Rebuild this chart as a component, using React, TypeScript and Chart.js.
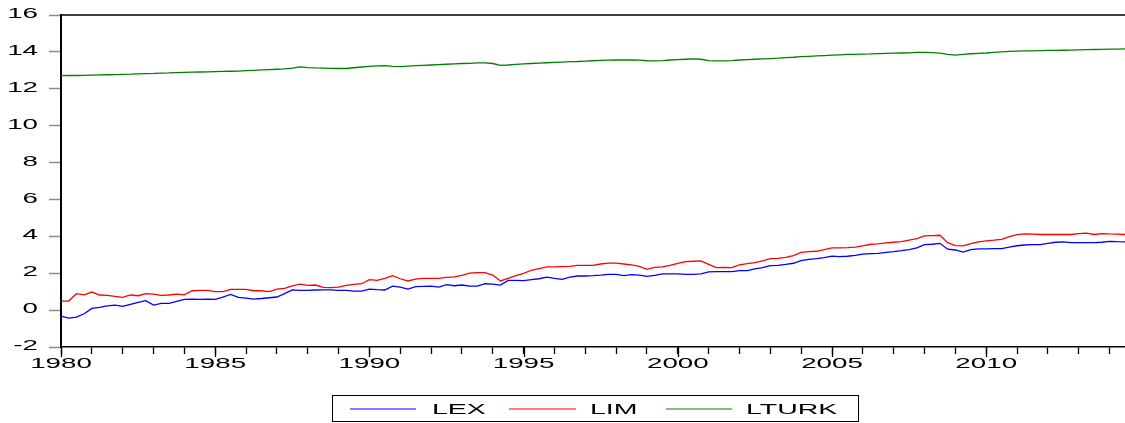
import React, { useEffect, useRef } from 'react';
import { Chart, registerables } from 'chart.js';

Chart.register(...registerables);

// Quarterly observations, 1980Q1 .. 2014Q3
const START_YEAR = 1980;
const PERIODS_PER_YEAR = 4;

const LEX = [
  -0.33, -0.43, -0.38, -0.20, 0.09, 0.15, 0.23, 0.27, 0.20, 0.31,
  0.42, 0.51, 0.27, 0.36, 0.36, 0.47, 0.58, 0.60, 0.58, 0.60,
  0.58, 0.71, 0.85, 0.69, 0.65, 0.60, 0.63, 0.67, 0.71, 0.89,
  1.10, 1.07, 1.07, 1.09, 1.10, 1.10, 1.07, 1.07, 1.03, 1.03,
  1.14, 1.11, 1.09, 1.30, 1.25, 1.14, 1.27, 1.29, 1.30, 1.25,
  1.38, 1.32, 1.36, 1.30, 1.30, 1.43, 1.41, 1.36, 1.61, 1.61,
  1.60, 1.65, 1.70, 1.79, 1.72, 1.67, 1.79, 1.85, 1.85, 1.87,
  1.90, 1.94, 1.94, 1.87, 1.92, 1.90, 1.83, 1.88, 1.96, 1.96,
  1.96, 1.94, 1.94, 1.97, 2.07, 2.09, 2.09, 2.09, 2.14, 2.14,
  2.23, 2.30, 2.41, 2.43, 2.48, 2.54, 2.68, 2.75, 2.79, 2.84,
  2.93, 2.90, 2.92, 2.97, 3.03, 3.06, 3.08, 3.13, 3.17, 3.22,
  3.28, 3.37, 3.55, 3.57, 3.62, 3.30, 3.26, 3.15, 3.28, 3.32,
  3.32, 3.33, 3.33, 3.42, 3.49, 3.53, 3.55, 3.55, 3.62, 3.68,
  3.70, 3.66, 3.66, 3.66, 3.66, 3.68, 3.73, 3.71, 3.70,
];

const LIM = [
  0.49, 0.49, 0.89, 0.83, 0.98, 0.82, 0.80, 0.74, 0.69, 0.82,
  0.78, 0.89, 0.87, 0.80, 0.82, 0.87, 0.83, 1.05, 1.07, 1.07,
  1.00, 1.00, 1.12, 1.12, 1.12, 1.05, 1.05, 1.00, 1.14, 1.18,
  1.32, 1.41, 1.34, 1.36, 1.23, 1.22, 1.25, 1.34, 1.39, 1.43,
  1.65, 1.61, 1.72, 1.87, 1.70, 1.58, 1.68, 1.72, 1.72, 1.72,
  1.78, 1.80, 1.88, 2.01, 2.03, 2.03, 1.90, 1.58, 1.72, 1.87,
  1.99, 2.16, 2.25, 2.34, 2.34, 2.36, 2.37, 2.43, 2.43, 2.43,
  2.50, 2.55, 2.55, 2.50, 2.45, 2.37, 2.21, 2.32, 2.34, 2.43,
  2.54, 2.63, 2.65, 2.67, 2.48, 2.30, 2.32, 2.30, 2.45, 2.52,
  2.57, 2.67, 2.79, 2.81, 2.86, 2.95, 3.13, 3.17, 3.19, 3.28,
  3.37, 3.37, 3.39, 3.42, 3.48, 3.57, 3.59, 3.64, 3.68, 3.71,
  3.80, 3.88, 4.02, 4.04, 4.06, 3.66, 3.50, 3.48, 3.60, 3.70,
  3.75, 3.79, 3.84, 3.98, 4.09, 4.13, 4.12, 4.10, 4.10, 4.10,
  4.10, 4.10, 4.15, 4.17, 4.10, 4.15, 4.13, 4.12, 4.10,
];

const LTURK = [
  12.71, 12.72, 12.72, 12.73, 12.74, 12.75, 12.76, 12.77, 12.78, 12.79,
  12.81, 12.82, 12.83, 12.85, 12.86, 12.88, 12.89, 12.90, 12.91, 12.92,
  12.93, 12.94, 12.95, 12.96, 12.98, 13.00, 13.02, 13.04, 13.06, 13.08,
  13.12, 13.19, 13.15, 13.13, 13.12, 13.11, 13.10, 13.10, 13.14, 13.18,
  13.21, 13.24, 13.26, 13.22, 13.20, 13.23, 13.25, 13.27, 13.29, 13.31,
  13.33, 13.35, 13.37, 13.38, 13.40, 13.40, 13.37, 13.27, 13.29, 13.32,
  13.35, 13.37, 13.39, 13.41, 13.43, 13.45, 13.47, 13.48, 13.50, 13.52,
  13.54, 13.55, 13.56, 13.56, 13.56, 13.55, 13.52, 13.51, 13.53, 13.56,
  13.58, 13.60, 13.62, 13.60, 13.53, 13.51, 13.51, 13.53, 13.56, 13.58,
  13.60, 13.62, 13.64, 13.66, 13.69, 13.71, 13.74, 13.76, 13.78, 13.80,
  13.82, 13.84, 13.86, 13.87, 13.88, 13.89, 13.91, 13.92, 13.93, 13.94,
  13.95, 13.97, 13.97, 13.96, 13.93, 13.87, 13.82, 13.87, 13.90, 13.92,
  13.94, 13.97, 14.00, 14.03, 14.04, 14.05, 14.06, 14.07, 14.08, 14.08,
  14.09, 14.10, 14.11, 14.12, 14.13, 14.14, 14.15, 14.15, 14.16,
];

const SERIES_NAMES = ['LEX', 'LIM', 'LTURK'];
const SERIES_COLORS = ['#0000ff', '#ff0000', '#008000'];
const X_TICK_LABELS = ['1980', '1985', '1990', '1995', '2000', '2005', '2010'];
const Y_TICK_LABELS = ['-2', '0', '2', '4', '6', '8', '10', '12', '14', '16'];

const FONT = '15px "Liberation Sans", Arial, sans-serif';
const STRETCH = 1.85;

function toPoints(values: number[]) {
  return values.map((v, i) => ({ x: START_YEAR + i / PERIODS_PER_YEAR, y: v }));
}

function stretchedText(
  ctx: CanvasRenderingContext2D,
  text: string,
  x: number,
  y: number,
  sx: number,
  align: CanvasTextAlign,
  baseline: CanvasTextBaseline
) {
  ctx.save();
  ctx.translate(x, y);
  ctx.scale(sx, 1);
  ctx.textAlign = align;
  ctx.textBaseline = baseline;
  ctx.fillText(text, 0, 0);
  ctx.restore();
}

const decorPlugin = {
  id: 'eviewsDecor',
  afterDraw(chart: any) {
    const ctx: CanvasRenderingContext2D = chart.ctx;
    const xs = chart.scales.x;
    const ys = chart.scales.y;
    const area = chart.chartArea;
    ctx.save();
    // top frame line
    ctx.strokeStyle = '#000';
    ctx.lineWidth = 1.5;
    ctx.beginPath();
    ctx.moveTo(area.left, area.top);
    ctx.lineTo(area.right, area.top);
    ctx.stroke();

    // longer major ticks on x axis
    ctx.lineWidth = 1.3;
    for (const lab of X_TICK_LABELS) {
      const px = Math.round(xs.getPixelForValue(Number(lab))) + 0.5;
      ctx.beginPath();
      ctx.moveTo(px, area.bottom);
      ctx.lineTo(px, area.bottom + 10);
      ctx.stroke();
    }

    ctx.fillStyle = '#000';
    ctx.font = FONT;
    // y tick labels
    for (const lab of Y_TICK_LABELS) {
      const py = ys.getPixelForValue(Number(lab));
      stretchedText(ctx, lab, 38, py - 1, STRETCH, 'right', 'middle');
    }
    // x tick labels
    for (const lab of X_TICK_LABELS) {
      const px = xs.getPixelForValue(Number(lab));
      stretchedText(ctx, lab, px, 368, STRETCH, 'center', 'alphabetic');
    }

    // legend
    const boxL = 332.5, boxT = 395.5, boxR = 858.5, boxB = 421.5;
    ctx.strokeStyle = '#000';
    ctx.lineWidth = 1;
    ctx.strokeRect(boxL, boxT, boxR - boxL, boxB - boxT);
    const items = [
      { x1: 350, x2: 416, tx: 432 },
      { x1: 509, x2: 576, tx: 590 },
      { x1: 666, x2: 732, tx: 746 },
    ];
    items.forEach((it, i) => {
      ctx.strokeStyle = SERIES_COLORS[i];
      ctx.lineWidth = 1.2;
      ctx.beginPath();
      ctx.moveTo(it.x1, 409);
      ctx.lineTo(it.x2, 409);
      ctx.stroke();
      ctx.fillStyle = '#000';
      stretchedText(ctx, SERIES_NAMES[i], it.tx, 414, 1.9, 'left', 'alphabetic');
    });
    ctx.restore();
  },
};

export default function App() {
  const canvasRef = useRef<HTMLCanvasElement | null>(null);

  useEffect(() => {
    document.body.style.margin = '0';
    const canvas = canvasRef.current;
    if (!canvas) return;
    const seriesValues = [LEX, LIM, LTURK];
    const chart = new Chart(canvas, {
      type: 'line',
      data: {
        datasets: seriesValues.map((vals, i) => ({
          label: SERIES_NAMES[i],
          data: toPoints(vals),
          borderColor: SERIES_COLORS[i],
          backgroundColor: SERIES_COLORS[i],
          borderWidth: 1.3,
          pointRadius: 0,
          tension: 0,
          fill: false,
        })),
      },
      options: {
        responsive: false,
        animation: false,
        devicePixelRatio: 1,
        parsing: false as any,
        normalized: true,
        layout: { padding: { top: 15, left: 0, right: 0, bottom: 0 } },
        plugins: {
          legend: { display: false },
          tooltip: { enabled: false },
          title: { display: false },
        },
        scales: {
          x: {
            type: 'linear',
            min: START_YEAR,
            max: 2014.5,
            ticks: { display: false, stepSize: 1, includeBounds: false },
            grid: {
              display: true,
              drawOnChartArea: false,
              drawTicks: true,
              tickLength: 7,
              tickColor: '#000',
              tickWidth: 1.3,
            },
            border: { display: true, color: '#000', width: 1.5 },
            afterFit: (scale: any) => {
              scale.height = 76;
            },
          },
          y: {
            type: 'linear',
            min: -2,
            max: 16,
            ticks: { display: false, stepSize: 2 },
            grid: {
              display: true,
              drawOnChartArea: false,
              drawTicks: true,
              tickLength: 12,
              tickColor: '#8c8c8c',
              tickWidth: 1.5,
            },
            border: { display: true, color: '#000', width: 2 },
            afterFit: (scale: any) => {
              scale.width = 61;
            },
          },
        },
      },
      plugins: [decorPlugin],
    });
    return () => {
      chart.destroy();
    };
  }, []);

  return (
    <canvas
      ref={canvasRef}
      width={1125}
      height={423}
      style={{ display: 'block', width: 1125, height: 423 }}
    />
  );
}
